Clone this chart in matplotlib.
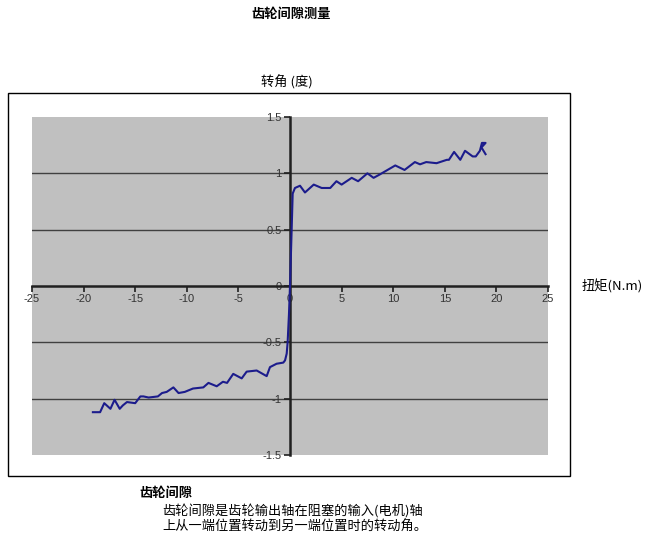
import matplotlib
matplotlib.use('Agg')
import matplotlib.pyplot as plt
from matplotlib.patches import Rectangle

plt.rcParams['font.family'] = ['Noto Sans CJK SC', 'DejaVu Sans']

# torque (N.m) vs. angle (deg)
torque = [-19.1, -18.4, -18.0, -17.4, -17.0, -16.5, -16.2, -15.8, -15.0, -14.5,
          -14.2, -13.7, -12.8, -12.4, -11.95, -11.3, -10.8, -10.2, -9.4, -8.4,
          -7.9, -7.1, -6.5, -6.1, -5.5, -4.68, -4.2, -3.23, -2.26, -1.94,
          -1.3, -0.65, -0.48, -0.32, -0.23, -0.1, 0.0, 0.08, 0.16, 0.26,
          0.48, 0.97, 1.45, 2.3, 3.07, 3.9, 4.5, 5.0, 5.98, 6.6,
          7.5, 8.1, 8.7, 10.2, 11.1, 12.1, 12.6, 13.2, 14.2, 15.2,
          15.4, 15.9, 16.5, 16.96, 17.7, 18.0, 18.4, 18.6, 18.95, 18.55,
          18.95]
angle = [-1.12, -1.12, -1.04, -1.09, -1.01, -1.09, -1.06, -1.03, -1.04, -0.98,
         -0.98, -0.99, -0.98, -0.95, -0.94, -0.90, -0.95, -0.94, -0.91, -0.90,
         -0.86, -0.89, -0.85, -0.86, -0.78, -0.82, -0.76, -0.75, -0.80, -0.72,
         -0.69, -0.68, -0.66, -0.60, -0.50, -0.25, 0.0, 0.25, 0.50, 0.82,
         0.87, 0.89, 0.83, 0.90, 0.87, 0.87, 0.93, 0.90, 0.96, 0.93,
         1.00, 0.96, 0.99, 1.07, 1.03, 1.10, 1.08, 1.10, 1.09, 1.12,
         1.12, 1.19, 1.12, 1.20, 1.15, 1.15, 1.20, 1.27, 1.27, 1.23,
         1.17]

x_ticks = [-25, -20, -15, -10, -5, 0, 5, 10, 15, 20, 25]
y_ticks = [-1.5, -1, -0.5, 0, 0.5, 1, 1.5]

W, H = 653, 541
fig = plt.figure(figsize=(W / 100, H / 100), dpi=100)

# outer chart frame
fig.patches.append(Rectangle((8 / W, 1 - 476 / H), 562 / W, 383 / H,
                             transform=fig.transFigure, fill=False,
                             edgecolor='black', linewidth=1))

ax = fig.add_axes([32 / W, 1 - 455 / H, 516 / W, 338 / H])
ax.set_facecolor('#c0c0c0')
ax.set_xlim(-25, 25)
ax.set_ylim(-1.5, 1.5)

for yv in [-1, -0.5, 0.5, 1]:
    ax.axhline(yv, color='#404040', linewidth=1, zorder=1)

ax.plot(torque, angle, color='#1c1c8c', linewidth=1.5, zorder=3,
        solid_joinstyle='round')

ax.spines['left'].set_position(('data', 0))
ax.spines['bottom'].set_position(('data', 0))
ax.spines['top'].set_visible(False)
ax.spines['right'].set_visible(False)
for s in ['left', 'bottom']:
    ax.spines[s].set_color('#202020')
    ax.spines[s].set_linewidth(1.8)
    ax.spines[s].set_zorder(2)

ax.set_xticks(x_ticks)
ax.set_yticks(y_ticks)
ax.set_xticklabels([str(v) for v in x_ticks], family=['Liberation Sans'])
ax.set_yticklabels(['-1.5', '-1', '-0.5', '0', '0.5', '1', '1.5'],
                   family=['Liberation Sans'])
ax.tick_params(axis='both', labelsize=8, labelcolor='#333333',
               color='#202020', length=4, width=1.2, direction='out', pad=2)

# titles and labels
fig.text(291 / W, 1 - 14 / H, '齿轮间隙测量', ha='center', va='center',
         fontsize=9.5, fontweight='bold')
fig.text(287 / W, 1 - 82 / H, '转角 (度)', ha='center', va='center', fontsize=9.5)
fig.text(582 / W, 1 - 286 / H, '扭矩(N.m)', ha='left', va='center',
         fontsize=9.5, family=['Noto Sans CJK SC', 'DejaVu Serif'])

fig.text(139 / W, 1 - 493 / H, '齿轮间隙', ha='left', va='center',
         fontsize=9.5, fontweight='bold')
fig.text(162 / W, 1 - 512 / H, '齿轮间隙是齿轮输出轴在阻塞的输入(电机)轴',
         ha='left', va='center', fontsize=9.5)
fig.text(162 / W, 1 - 527 / H, '上从一端位置转动到另一端位置时的转动角。',
         ha='left', va='center', fontsize=9.5)

fig.savefig('out.png', dpi=100)
